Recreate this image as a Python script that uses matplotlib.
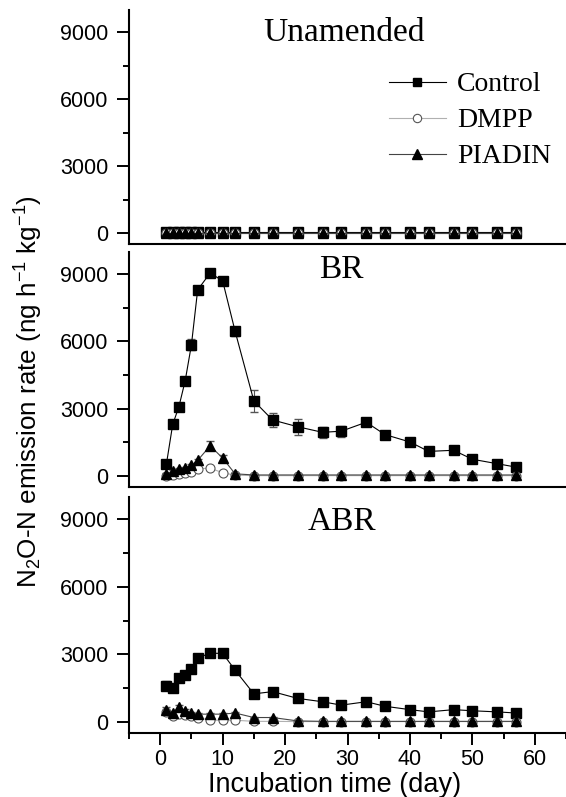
import numpy as np
import matplotlib
matplotlib.use("Agg")
import matplotlib.pyplot as plt
from matplotlib.ticker import MultipleLocator
from matplotlib.lines import Line2D

plt.rcParams["font.family"] = ["Liberation Sans", "DejaVu Sans"]
plt.rcParams["mathtext.default"] = "regular"

# sampling days
days = [1, 2, 3, 4, 5, 6, 8, 10, 12, 15, 18, 22, 26, 29, 33, 36, 40, 43, 47, 50, 54, 57]

# Unamended
un_control = [40, 40, 40, 40, 40, 40, 40, 40, 40, 40, 40, 40, 40, 40, 40, 40, 40, 40, 40, 40, 40, 40]
un_dmpp = [10, 10, 10, 10, 10, 10, 10, 10, 10, 10, 10, 10, 10, 10, 10, 10, 10, 10, 10, 10, 10, 10]
un_piadin = [20, 20, 20, 20, 20, 20, 20, 20, 20, 20, 20, 20, 20, 20, 20, 20, 20, 20, 20, 20, 20, 20]

# BR
br_control = [550, 2300, 3100, 4250, 5850, 8300, 9050, 8700, 6450, 3350, 2500, 2200,
              1950, 2000, 2400, 1850, 1520, 1100, 1150, 750, 550, 400]
br_control_err = [150, 100, 100, 150, 250, 150, 100, 100, 200, 500, 300, 350,
                  250, 250, 100, 100, 80, 80, 80, 80, 80, 80]
br_dmpp = [20, 50, 80, 120, 180, 330, 350, 150, 40, 20, 20, 20,
           20, 20, 20, 20, 20, 20, 20, 20, 20, 20]
br_piadin = [90, 220, 310, 370, 480, 700, 1350, 800, 100, 50, 50, 50,
             50, 50, 50, 50, 50, 50, 50, 50, 50, 50]
br_piadin_err = [40, 40, 40, 40, 60, 80, 200, 120, 40, 20, 20, 20,
                 20, 20, 20, 20, 20, 20, 20, 20, 20, 20]

# ABR
abr_control = [1600, 1500, 1950, 2100, 2350, 2850, 3050, 3050, 2300, 1250, 1350, 1050,
               900, 750, 900, 700, 550, 450, 550, 500, 450, 400]
abr_control_err = [200, 150, 100, 100, 100, 100, 100, 100, 80, 80, 80, 80,
                   60, 60, 60, 60, 60, 60, 60, 60, 60, 60]
abr_dmpp = [450, 250, 350, 300, 250, 200, 80, 80, 80, 30, 30, 20,
            20, 20, 20, 20, 20, 20, 20, 20, 20, 20]
abr_piadin = [550, 400, 650, 500, 400, 350, 350, 350, 400, 200, 200, 50,
              30, 30, 30, 30, 30, 30, 30, 30, 30, 30]
abr_piadin_err = [100, 100, 100, 80, 60, 60, 60, 60, 60, 40, 40, 20,
                  20, 20, 20, 20, 20, 20, 20, 20, 20, 20]

panels = [
    ("Unamended", un_control, None, un_dmpp, un_piadin, None, (0.492, 0.905)),
    ("BR", br_control, br_control_err, br_dmpp, br_piadin, br_piadin_err, (0.485, 0.925)),
    ("ABR", abr_control, abr_control_err, abr_dmpp, abr_piadin, abr_piadin_err, (0.487, 0.895)),
]

W, H = 566, 797
fig = plt.figure(figsize=(W / 100, H / 100), dpi=100)

# axes boxes in pixel (left, top, right, bottom)
boxes = [(129, 10, 566, 244.3), (129, 251.7, 566, 487.3), (129, 496.7, 566, 733.3)]

axes = []
for (l, t, r, b) in boxes:
    ax = fig.add_axes([l / W, 1 - b / H, (r - l) / W, (b - t) / H])
    axes.append(ax)

for i, (ax, p) in enumerate(zip(axes, panels)):
    name, ctl, ctl_err, dm, pi, pi_err, tpos = p
    ax.errorbar(days, ctl, yerr=ctl_err, color="black", lw=0.8, marker="s", ms=7,
                mfc="black", mec="black", ecolor="#555555", elinewidth=0.8, capsize=3,
                zorder=3)
    ax.errorbar(days, dm, yerr=[30] * len(days), color="#b0b0b0", lw=0.8, marker="o", ms=6.5,
                mfc="white", mec="#555555", mew=0.8, ecolor="#555555", elinewidth=0.7,
                capsize=2, zorder=4)
    ax.errorbar(days, pi, yerr=pi_err, color="#444444", lw=0.8, marker="^", ms=7.5,
                mfc="black", mec="black", ecolor="#555555", elinewidth=0.8, capsize=3,
                zorder=5)

    ax.set_xlim(-5, 65)
    ax.set_ylim(-500, 10000)
    ax.yaxis.set_major_locator(MultipleLocator(3000))
    ax.yaxis.set_minor_locator(MultipleLocator(1500))
    ax.xaxis.set_major_locator(MultipleLocator(10))
    ax.xaxis.set_minor_locator(MultipleLocator(5))
    for s in ["top", "right"]:
        ax.spines[s].set_visible(False)
    for s in ["left", "bottom"]:
        ax.spines[s].set_linewidth(1.5)
    ax.tick_params(which="major", length=8.5, width=1.4, labelsize=15.5, pad=6.5)
    ax.tick_params(which="minor", length=4.5, width=1.4)
    if i < 2:
        ax.tick_params(axis="x", which="both", bottom=False, labelbottom=False)
    else:
        ax.tick_params(axis="x", which="major", pad=3)

    ax.text(tpos[0], tpos[1], name, transform=ax.transAxes, ha="center", va="center",
            fontsize=24, family=["Liberation Serif", "DejaVu Serif"])

# legend with plain line+marker handles
handles = [
    Line2D([], [], color="black", lw=0.8, marker="s", ms=6, mfc="black", mec="black"),
    Line2D([], [], color="#b0b0b0", lw=0.8, marker="o", ms=6, mfc="white", mec="#555555", mew=0.8),
    Line2D([], [], color="#444444", lw=0.8, marker="^", ms=6.5, mfc="black", mec="black"),
]
axes[0].legend(handles, ["Control", "DMPP", "PIADIN"], loc="upper left",
               bbox_to_anchor=(389 / W, 1 - 72 / H), bbox_transform=fig.transFigure,
               frameon=False, borderpad=0, borderaxespad=0, handlelength=2.05,
               handletextpad=0.4, labelspacing=0.38,
               prop={"family": "Liberation Serif", "size": 20})

fig.text(335 / W, 1 - 792 / H, "Incubation time (day)", ha="center", va="baseline", fontsize=19.5)
fig.text(29 / W, 1 - 392 / H, "N$_2$O-N emission rate (ng h$^{-1}$ kg$^{-1}$)",
         rotation=90, ha="center", va="center", fontsize=18.7)

fig.savefig("out.png", dpi=100)
